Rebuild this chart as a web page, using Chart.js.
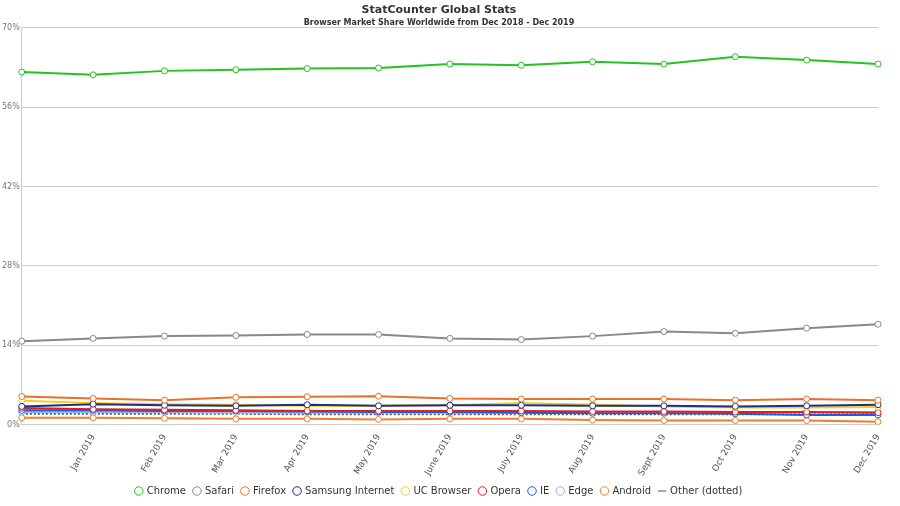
<!DOCTYPE html>
<html lang="en">
<head>
    <meta charset="UTF-8">
    <title>StatCounter Global Stats</title>
    <script src="https://cdn.jsdelivr.net/npm/chart.js"></script>
    <style>
        body { margin: 0; background: #fff; }
        #wrap { width: 900px; height: 506px; }
    </style>
</head>
<body>
    <div id="wrap"><canvas id="chart"></canvas></div>
    <script>
        // Données
        const months = ['Dec 2018', 'Jan 2019', 'Feb 2019', 'Mar 2019', 'Apr 2019', 'May 2019', 'June 2019',
            'July 2019', 'Aug 2019', 'Sept 2019', 'Oct 2019', 'Nov 2019', 'Dec 2019'];
        const chrome = [62.2, 61.7, 62.4, 62.6, 62.8, 62.9, 63.6, 63.4, 64.0, 63.6, 64.9, 64.3, 63.6];
        const safari = [14.7, 15.2, 15.6, 15.7, 15.9, 15.9, 15.2, 15.0, 15.6, 16.4, 16.1, 17.0, 17.7];
        const firefox = [4.95, 4.6, 4.3, 4.8, 4.9, 5.0, 4.6, 4.5, 4.5, 4.5, 4.3, 4.5, 4.3];
        const samsung = [3.2, 3.6, 3.4, 3.3, 3.5, 3.3, 3.4, 3.4, 3.3, 3.3, 3.2, 3.3, 3.5];
        const ucBrowser = [4.2, 3.8, 3.6, 3.5, 3.3, 3.3, 3.4, 3.8, 3.5, 3.2, 3.0, 3.0, 3.1];
        const opera = [2.9, 2.7, 2.6, 2.5, 2.4, 2.4, 2.4, 2.4, 2.3, 2.3, 2.2, 2.2, 2.1];
        const ie = [2.5, 2.5, 2.4, 2.4, 2.3, 2.2, 2.2, 2.1, 2.0, 2.0, 1.9, 1.7, 1.7];
        const edge = [2.2, 2.2, 2.2, 2.1, 2.1, 2.1, 2.1, 2.1, 2.1, 2.1, 2.1, 2.2, 2.2];
        const android = [1.2, 1.2, 1.1, 1.0, 1.0, 0.9, 1.0, 1.0, 0.8, 0.7, 0.7, 0.7, 0.5];
        const other = [1.9, 1.9, 1.9, 1.9, 1.8, 1.8, 1.8, 1.8, 1.8, 1.8, 1.8, 1.8, 1.8];
        const yTicks = [0, 14, 28, 42, 56, 70];

        function serie(label, data, color, dotted) {
            return {
                label: label,
                data: data,
                borderColor: color,
                backgroundColor: '#fff',
                borderWidth: 2,
                borderDash: dotted ? [2, 2] : [],
                pointRadius: dotted ? 0 : 3,
                pointBorderWidth: 1,
                pointBackgroundColor: '#fff',
                pointBorderColor: color,
                pointStyle: dotted ? 'line' : 'circle',
                tension: 0
            };
        }

        new Chart(document.getElementById('chart'), {
            type: 'line',
            data: {
                labels: months,
                datasets: [
                    serie('Chrome', chrome, '#22c322'),
                    serie('Safari', safari, '#888888'),
                    serie('Firefox', firefox, '#e8702a'),
                    serie('Samsung Internet', samsung, '#1c2f8c'),
                    serie('UC Browser', ucBrowser, '#f5d117'),
                    serie('Opera', opera, '#e31c1c'),
                    serie('IE', ie, '#1c5ce3'),
                    serie('Edge', edge, '#8fb5f5'),
                    serie('Android', android, '#f07d2b'),
                    serie('Other (dotted)', other, '#555555', true)
                ]
            },
            options: {
                responsive: true,
                maintainAspectRatio: false,
                animation: false,
                layout: { padding: { left: 0, right: 22, top: 4, bottom: 0 } },
                plugins: {
                    title: {
                        display: true,
                        text: 'StatCounter Global Stats',
                        color: '#333',
                        font: { family: 'DejaVu Sans', size: 11, weight: 'bold' },
                        padding: { top: 0, bottom: 0 }
                    },
                    subtitle: {
                        display: true,
                        text: 'Browser Market Share Worldwide from Dec 2018 - Dec 2019',
                        color: '#333',
                        font: { family: 'DejaVu Sans', size: 8, weight: 'bold' },
                        padding: { top: 1, bottom: 0 }
                    },
                    legend: {
                        position: 'bottom',
                        labels: {
                            usePointStyle: true,
                            boxWidth: 6,
                            boxHeight: 6,
                            color: '#333',
                            padding: 8,
                            font: { family: 'DejaVu Sans', size: 10 }
                        }
                    }
                },
                scales: {
                    x: {
                        offset: false,
                        grid: { display: false, drawTicks: true },
                        border: { color: '#ccc' },
                        ticks: {
                            color: '#555',
                            padding: 0,
                            font: { family: 'DejaVu Sans', size: 9 },
                            maxRotation: 60,
                            minRotation: 60,
                            autoSkip: false,
                            callback: function (v, i) { return i === 0 ? '' : months[i]; }
                        }
                    },
                    y: {
                        min: 0,
                        max: 70,
                        afterBuildTicks: function (axis) { axis.ticks = yTicks.map(v => ({ value: v })); },
                        grid: { color: '#ccc', drawTicks: false },
                        border: { color: '#ccc' },
                        ticks: {
                            color: '#777',
                            padding: 2,
                            font: { family: 'DejaVu Sans', size: 8 },
                            callback: v => v + '%'
                        }
                    }
                }
            }
        });
    </script>
</body>
</html>
